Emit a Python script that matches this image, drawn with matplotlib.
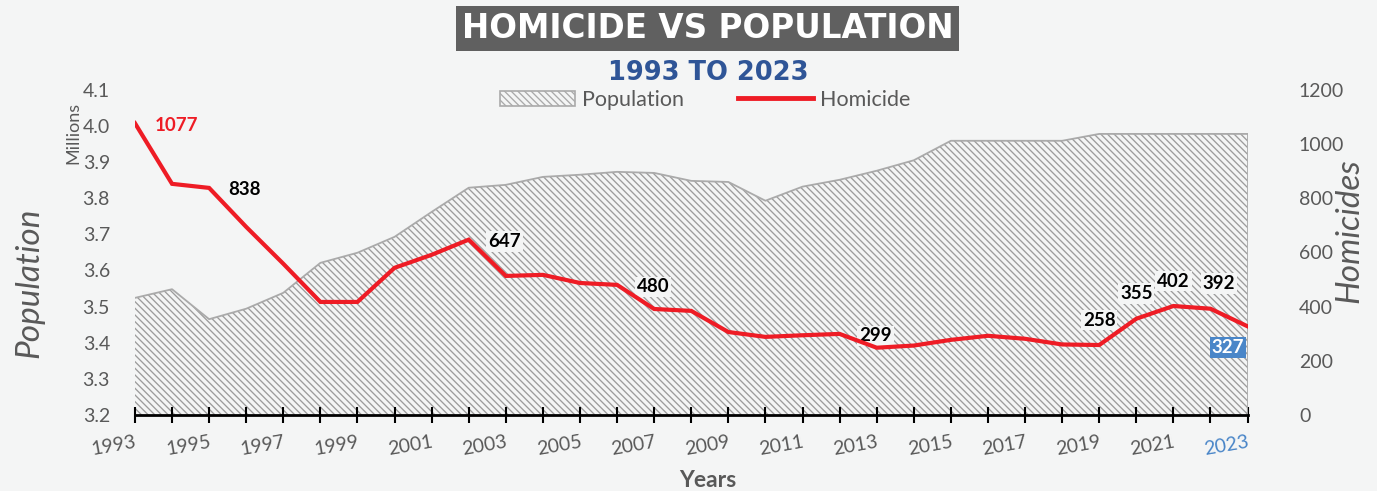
import numpy as np
import matplotlib
matplotlib.use("Agg")
import matplotlib.pyplot as plt
from matplotlib.patches import Patch
from matplotlib.lines import Line2D

plt.rcParams['font.family'] = ['Lato', 'DejaVu Sans']
plt.rcParams['hatch.color'] = '#9c9c9c'
plt.rcParams['hatch.linewidth'] = 0.95

years = list(range(1993, 2024))
population = [3.524, 3.548, 3.465, 3.494, 3.538, 3.621, 3.649, 3.693, 3.762, 3.829,
              3.837, 3.859, 3.865, 3.873, 3.870, 3.848, 3.845, 3.793, 3.832, 3.851,
              3.876, 3.905, 3.959, 3.959, 3.959, 3.959, 3.978, 3.978, 3.978, 3.978, 3.978]
homicide = [1077, 853, 838, 694, 558, 417, 417, 543, 591, 647,
            513, 517, 487, 480, 391, 384, 306, 288, 294, 299,
            248, 256, 277, 292, 281, 260, 258, 355, 402, 392, 327]

right_labels = [1993, 1995, 2002, 2006, 2012]
above_labels = [2019, 2020, 2021, 2022]
xtick_years = list(range(1993, 2024, 2))

bg = '#f4f5f5'
grey = '#595959'
red = '#ee1c25'
hatch = '\\' * 5

fig = plt.figure(figsize=(13.77, 4.91), dpi=100, facecolor=bg)
ax = fig.add_axes([0.098, 0.155, 0.808, 0.662])
ax.set_facecolor(bg)
ax2 = ax.twinx()

ax.fill_between(years, 3.2, population, facecolor='none', hatch=hatch,
                edgecolor='#9c9c9c', linewidth=0)
ax.plot(years, population, color='#aaaaaa', lw=1.3)
ax.plot([2023, 2023], [3.2, population[-1]], color='#aaaaaa', lw=1.3)
ax.set_xlim(1993, 2023)
ax.set_ylim(3.2, 4.1)
ax.set_yticks(np.arange(3.2, 4.11, 0.1))
ax.set_yticklabels([f"{v:.1f}" for v in np.arange(3.2, 4.11, 0.1)])

ax2.plot(years, homicide, color=red, lw=3.0, solid_joinstyle='miter', zorder=5)
ax2.set_ylim(0, 1200)
ax2.set_yticks(range(0, 1201, 200))

for a in (ax, ax2):
    for s in a.spines.values():
        s.set_visible(False)
ax.spines['bottom'].set_visible(True)
ax.spines['bottom'].set_linewidth(2)
ax.spines['bottom'].set_color('black')
ax.spines['bottom'].set_zorder(10)

ax.set_xticks(years, minor=True)
ax.set_xticks(xtick_years)
ax.tick_params(axis='x', which='both', direction='inout', length=12, width=1.5, color='black')
ax.set_xticklabels([str(y) for y in xtick_years], rotation=10, fontsize=14, color=grey,
                   ha='right', rotation_mode='anchor')
ax.get_xticklabels()[-1].set_color('#4a86c8')
ax.tick_params(axis='x', pad=7)
ax.tick_params(axis='y', length=0, labelsize=14, labelcolor=grey, pad=18)
ax2.tick_params(axis='y', length=0, labelsize=14, labelcolor=grey, pad=37)

# data labels (drawn beneath the red line)
box = dict(boxstyle='square,pad=0.1', facecolor=bg, edgecolor='none')
for y in right_labels:
    v = homicide[years.index(y)]
    ax2.annotate(str(v), (y, v), xytext=(14, -1.5), textcoords='offset points',
                 ha='left', va='center', fontsize=13.5, fontweight='bold',
                 color=red if y == 1993 else 'black', bbox=box, zorder=4)
for y in above_labels:
    v = homicide[years.index(y)]
    dx = 6 if y == 2022 else 0
    ax2.annotate(str(v), (y, v), xytext=(dx, 18), textcoords='offset points',
                 ha='center', va='center', fontsize=13.5, fontweight='bold',
                 color='black', bbox=box, zorder=4)
ax2.annotate(str(homicide[-1]), (2023, homicide[-1]), xytext=(-14, -15),
             textcoords='offset points', ha='center', va='center', fontsize=13.5,
             fontweight='bold', color='white',
             bbox=dict(boxstyle='square,pad=0.1', facecolor='#4a86c8', edgecolor='none'),
             zorder=4)

# axis titles
fig.text(0.021, 0.425, 'Population', rotation=90, fontsize=24, style='italic',
         color=grey, ha='center', va='center')
fig.text(0.980, 0.53, 'Homicides', rotation=90, fontsize=24, style='italic',
         color=grey, ha='center', va='center')
fig.text(0.053, 0.73, 'Millions', rotation=90, fontsize=13, color=grey,
         ha='center', va='center')
fig.text(0.514, 0.022, 'Years', fontsize=16.5, fontweight='bold', color=grey,
         ha='center', va='center')

# title
fig.text(0.514, 0.942, 'HOMICIDE VS POPULATION', fontsize=23.5, fontweight='heavy',
         family='DejaVu Sans', color='white', ha='center', va='center',
         bbox=dict(boxstyle='square,pad=0.18', facecolor='#606060', edgecolor='none'))
fig.text(0.514, 0.852, '1993 TO 2023', fontsize=18.5, fontweight='heavy',
         family='DejaVu Sans', color='#2f5597', ha='center', va='center')

handles = [Patch(facecolor='none', hatch=hatch, edgecolor='#aaaaaa', lw=1.2),
           Line2D([], [], color=red, lw=3.5)]
fig.legend(handles, ['Population', 'Homicide'], loc='center', bbox_to_anchor=(0.512, 0.797),
           ncol=2, frameon=False, fontsize=15.5, labelcolor=grey, handlelength=3.5,
           columnspacing=2.5, handletextpad=0.3)

fig.savefig('out.png', dpi=100, facecolor=bg)
